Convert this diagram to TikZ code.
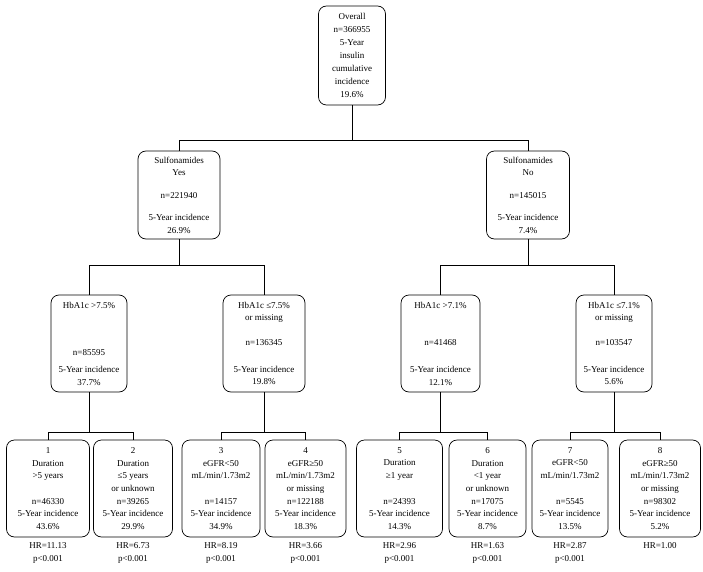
\documentclass[tikz,border=0pt]{standalone}
\usepackage{fontspec}
\setmainfont{Liberation Serif}
\usetikzlibrary{positioning}

\begin{document}
\begin{tikzpicture}[x=1pt,y=-1pt,line width=0.7pt,
    box/.style={draw,rounded corners=8pt,align=center,inner sep=0pt,font=\fontsize{9}{12.7}\selectfont},
    hr/.style={align=center,inner sep=1pt,font=\fontsize{9}{13}\selectfont}]
  \useasboundingbox (0,0) rectangle (703,572);
  \node[box,minimum width=67pt,minimum height=99pt,font=\fontsize{9}{13}\selectfont] (root) at (352,55.5) {Overall\\n=366955\\5-Year\\insulin\\cumulative\\incidence\\19.6\%};
  \node[box,minimum width=82pt,minimum height=88pt] (yes) at (179,195) {Sulfonamides\\Yes\\[9.5pt]n=221940\\[9.5pt]5-Year incidence\\26.9\%};
  \node[box,minimum width=83pt,minimum height=88pt] (no) at (528,195) {Sulfonamides\\No\\[9.5pt]n=145015\\[9.5pt]5-Year incidence\\7.4\%};
  \draw (root.south) -- ++(0,35) coordinate (j0) -| (yes.north);
  \draw (j0) -| (no.north);
  \node[box,minimum width=76pt,minimum height=97pt] (hba) at (89,343.5) {HbA1c >7.5\%\\[34.5pt]n=85595\\[4.5pt]5-Year incidence\\37.7\%};
  \node[box,minimum width=82pt,minimum height=97pt] (hbb) at (264,343.5) {HbA1c ≤7.5\%\\or missing\\[11.5pt]n=136345\\[14.5pt]5-Year incidence\\19.8\%};
  \node[box,minimum width=79pt,minimum height=97pt] (hbc) at (440.5,343.5) {HbA1c >7.1\%\\[24.5pt]n=41468\\[14.5pt]5-Year incidence\\12.1\%};
  \node[box,minimum width=76pt,minimum height=97pt] (hbd) at (614,343.5) {HbA1c ≤7.1\%\\or missing\\[11.5pt]n=103547\\[14.5pt]5-Year incidence\\5.6\%};
  \draw (yes.south) -- ++(0,26) coordinate (j1) -| (hba.north);
  \draw (j1) -| (hbb.north);
  \draw (no.south) -- ++(0,26) coordinate (j2) -| (hbc.north);
  \draw (j2) -| (hbd.north);
  \foreach \nm/\px/\w/\up/\txt/\hrt in {
      t1/48/83/hba/{1\\Duration\\>5 years\\[12.7pt]n=46330\\5-Year incidence\\43.6\%}/{HR=11.13\\p<0.001},
      t2/133/79/hba/{2\\Duration\\≤5 years\\or unknown\\n=39265\\5-Year incidence\\29.9\%}/{HR=6.73\\p<0.001},
      t3/221/78/hbb/{3\\eGFR<50\\mL/min/1.73m2\\[12.7pt]n=14157\\5-Year incidence\\34.9\%}/{HR=8.19\\p<0.001},
      t4/305.5/81/hbb/{4\\eGFR≥50\\mL/min/1.73m2\\or missing\\n=122188\\5-Year incidence\\18.3\%}/{HR=3.66\\p<0.001},
      t5/399.5/86/hbc/{5\\Duration\\≥1 year\\[12.7pt]n=24393\\5-Year incidence\\14.3\%}/{HR=2.96\\p<0.001},
      t6/487.5/77/hbc/{6\\Duration\\<1 year\\or unknown\\n=17075\\5-Year incidence\\8.7\%}/{HR=1.63\\p<0.001},
      t7/570/76/hbd/{7\\eGFR<50\\mL/min/1.73m2\\[12.7pt]n=5545\\5-Year incidence\\13.5\%}/{HR=2.87\\p<0.001},
      t8/660/81/hbd/{8\\eGFR≥50\\mL/min/1.73m2\\or missing\\n=98302\\5-Year incidence\\5.2\%}/{HR=1.00}}
  {
    \node[box,minimum width=\w pt,minimum height=97pt] (\nm) at (\px,488.5) {\txt};
    \node[hr,below=4pt of \nm] (\nm-hr) {\hrt};
    \draw (\up.south) -- ++(0,40) -| (\nm.north);
  }
\end{tikzpicture}
\end{document}
